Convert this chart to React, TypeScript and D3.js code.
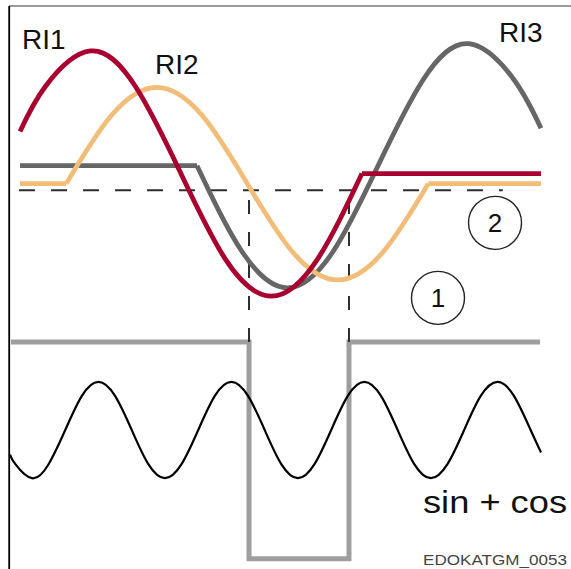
import React from "react";
import * as d3 from "d3";

type P = [number, number];

// x: electrical degrees, y: signal level (0..100)
const ri1Wave: P[] = [[0, 77.4], [25, 85.4], [70, 91.8], [115, 85.4], [160, 69.9], [205, 54.4], [250, 48.0], [295, 54.4], [340, 69.9]];
const ri1Flat: P[] = [[340, 69.9], [518, 69.9]];

const ri2FlatStart: P[] = [[0, 68.1], [46, 68.1]];
const ri2Wave: P[] = [[46, 68.1], [91, 80.3], [136, 85.3], [181, 80.3], [226, 68.1], [271, 55.9], [316, 50.9], [361, 55.9], [406, 68.1]];
const ri2FlatEnd: P[] = [[406, 68.1], [518, 68.1]];

const ri3Flat: P[] = [[0, 71.3], [176, 71.3]];
const ri3Wave: P[] = [[176, 71.3], [221, 55.9], [266, 49.5], [311, 55.9], [356, 71.3], [401, 86.7], [446, 93.1], [491, 86.7], [518, 78.0]];

const sinCos: P[] = [
  [-10, 19.7], [-4.6, 18.0], [11.9, 15.5], [28.4, 18.0], [45.0, 24.1], [61.5, 30.2], [78.0, 32.7], [94.5, 30.2],
  [111.1, 24.1], [127.6, 18.0], [144.1, 15.5], [160.6, 18.0], [177.2, 24.1], [193.7, 30.2], [210.2, 32.7],
  [226.7, 30.2], [243.3, 24.1], [259.8, 18.0], [276.3, 15.5], [292.8, 18.0], [309.4, 24.1], [325.9, 30.2],
  [342.4, 32.7], [358.9, 30.2], [375.5, 24.1], [392.0, 18.0], [408.5, 15.5], [425.0, 18.0], [441.6, 24.1],
  [458.1, 30.2], [474.6, 32.7], [491.1, 30.2], [507.7, 24.1], [518, 20.1],
];

const squareWave: P[] = [[-9, 39.8], [227.7, 39.8], [227.7, 1.1], [327.1, 1.1], [327.1, 39.8], [517, 39.8]];

const thresholdLevel = 66.9;
const thresholdRange: P = [-1, 480];
const windowEdges: number[] = [227.7, 327.1];
const windowBottom = 39.8;

const circleMarks = [
  { label: "2", x: 472.3, y: 61.1 },
  { label: "1", x: 415.6, y: 47.7 },
];

const curveLabels = [
  { text: "RI1", x: 2, y: 92.1 },
  { text: "RI2", x: 134.2, y: 87.7 },
  { text: "RI3", x: 476.3, y: 93.4 },
];

const W = 571;
const H = 569;

const xScale = d3.scaleLinear().domain([0, 520]).range([20, 543]);
const yScale = d3.scaleLinear().domain([0, 100]).range([565, 5]);

const smooth = d3.line<P>().x((d) => xScale(d[0])).y((d) => yScale(d[1])).curve(d3.curveNatural);
const straight = d3.line<P>().x((d) => xScale(d[0])).y((d) => yScale(d[1])).curve(d3.curveLinear);

const RED = "#a8002f";
const ORANGE = "#f1bd79";
const DARK = "#666666";

export default function App() {
  const font = "'Liberation Sans', Arial, Helvetica, sans-serif";
  return (
    <svg
      width={W}
      height={H}
      viewBox={`0 0 ${W} ${H}`}
      style={{ position: "absolute", left: 0, top: 0, background: "#fff" }}
    >
      <rect x={0} y={0} width={W} height={H} fill="#fff" />
      {/* frame */}
      <line x1={9} y1={6} x2={W} y2={6} stroke="#777" strokeWidth={1.5} />
      <line x1={9.2} y1={6} x2={9.2} y2={H} stroke="#000" strokeWidth={1.8} />

      {/* square wave */}
      <path d={straight(squareWave) || ""} fill="none" stroke="#9e9e9e" strokeWidth={5} strokeLinejoin="miter" />

      {/* dashed threshold window */}
      <line
        x1={xScale(thresholdRange[0])}
        x2={xScale(thresholdRange[1])}
        y1={yScale(thresholdLevel)}
        y2={yScale(thresholdLevel)}
        stroke="#2e2e2e"
        strokeWidth={2}
        strokeDasharray="16 16"
      />
      {windowEdges.map((e, i) => (
        <line
          key={i}
          x1={xScale(e)}
          x2={xScale(e)}
          y1={yScale(windowBottom)}
          y2={yScale(thresholdLevel)}
          stroke="#2e2e2e"
          strokeWidth={2}
          strokeDasharray="14 18"
        />
      ))}

      {/* sin + cos */}
      <path d={smooth(sinCos) || ""} fill="none" stroke="#000" strokeWidth={2.2} />

      {/* RI3 */}
      <path d={straight(ri3Flat) || ""} fill="none" stroke={DARK} strokeWidth={4.8} />
      <path d={smooth(ri3Wave) || ""} fill="none" stroke={DARK} strokeWidth={4.8} />
      {/* RI2 */}
      <path d={straight(ri2FlatStart) || ""} fill="none" stroke={ORANGE} strokeWidth={4.8} />
      <path d={smooth(ri2Wave) || ""} fill="none" stroke={ORANGE} strokeWidth={4.8} />
      <path d={straight(ri2FlatEnd) || ""} fill="none" stroke={ORANGE} strokeWidth={4.8} />
      {/* RI1 */}
      <path d={smooth(ri1Wave) || ""} fill="none" stroke={RED} strokeWidth={4.8} />
      <path d={straight(ri1Flat) || ""} fill="none" stroke={RED} strokeWidth={4.8} />

      {/* circle markers */}
      {circleMarks.map((c) => (
        <g key={c.label}>
          <circle cx={xScale(c.x)} cy={yScale(c.y)} r={26.5} fill="none" stroke="#222" strokeWidth={1.4} />
          <text
            x={xScale(c.x)}
            y={yScale(c.y) + 9.3}
            textAnchor="middle"
            fontFamily={font}
            fontSize={26}
            fill="#111"
          >
            {c.label}
          </text>
        </g>
      ))}

      {/* curve labels */}
      {curveLabels.map((l) => (
        <text key={l.text} x={xScale(l.x)} y={yScale(l.y)} fontFamily={font} fontSize={28} fill="#111">
          {l.text}
        </text>
      ))}

      <text x={xScale(400.7)} y={yScale(9.3)} fontFamily={font} fontSize={32} fill="#111" textLength={144} lengthAdjust="spacingAndGlyphs">
        sin + cos
      </text>
      <text x={xScale(400.7)} y={yScale(0)} fontFamily={font} fontSize={15} fill="#444" textLength={144} lengthAdjust="spacingAndGlyphs">
        EDOKATGM_0053
      </text>
    </svg>
  );
}
